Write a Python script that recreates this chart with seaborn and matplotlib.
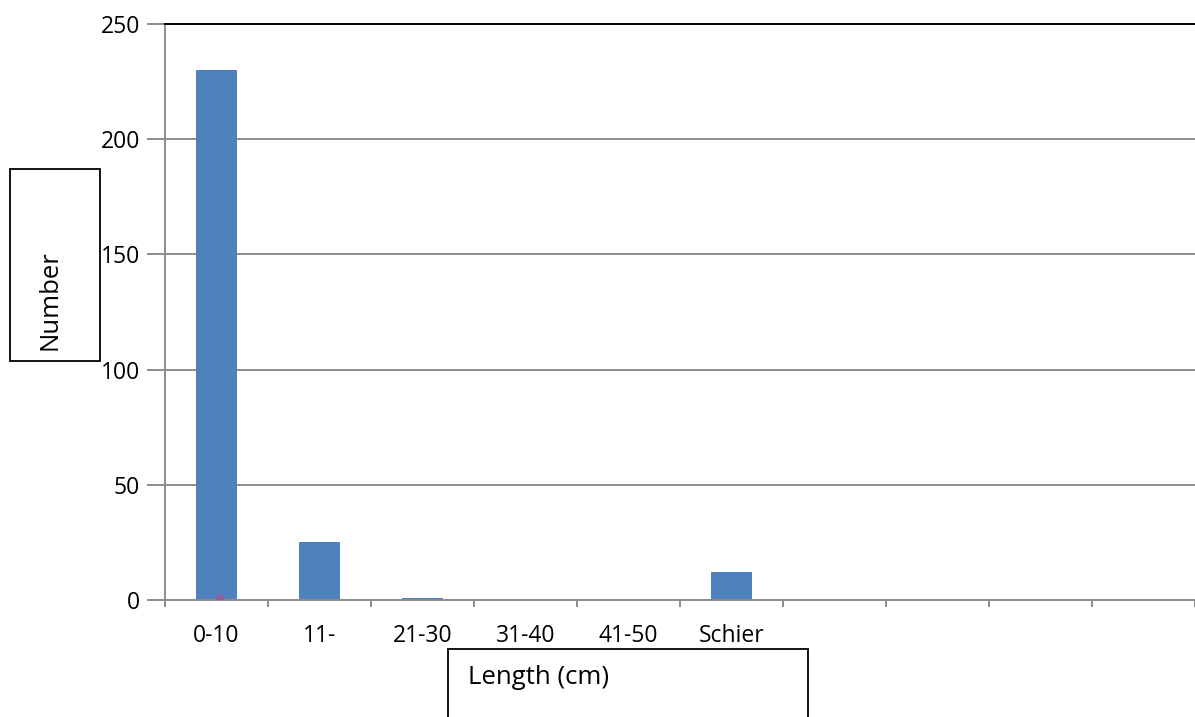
import numpy as np
import pandas as pd
import matplotlib
matplotlib.use('Agg')
import matplotlib.pyplot as plt
import seaborn as sns
from matplotlib.patches import Rectangle

# 데이터
categories = ['0-10', '11-', '21-30', '31-40', '41-50', 'Schier']
counts = [230, 25, 1, 0, 0, 12]
second = [2, 0, 0, 0, 0, 0]
n_slots = 10

sns.set_style('white')
plt.rcParams['font.family'] = ['Open Sans', 'DejaVu Sans']
plt.rcParams['text.color'] = 'black'
plt.rcParams['xtick.color'] = 'black'
plt.rcParams['ytick.color'] = 'black'

fig = plt.figure(figsize=(11.95, 7.17), dpi=100)
ax = fig.add_axes([165 / 1195, 117 / 717, 1030 / 1195, 576 / 717])

df = pd.DataFrame({'cat': categories, 'n': counts, 'n2': second})
sns.barplot(data=df, x='cat', y='n', order=categories, color='#4F81BD',
            width=0.4, saturation=1, linewidth=0, ax=ax)
ax.bar(np.arange(len(categories)) + 0.035, df['n2'], width=0.08,
       color='#8E5EA2', linewidth=0, zorder=3)

ax.set_ylim(0, 250)
ax.set_xlim(-0.5, n_slots - 0.5 - 9 / 104)
ax.set_yticks(np.arange(0, 251, 50))
ax.yaxis.grid(True, color='#8c8c8c', linewidth=1.4)
ax.set_axisbelow(True)

ax.spines['right'].set_visible(False)
ax.spines['top'].set_color('black')
ax.spines['top'].set_linewidth(1.4)
for s in ['left', 'bottom']:
    ax.spines[s].set_color('#8c8c8c')
    ax.spines[s].set_linewidth(1.4)

# 눈금
ax.set_xticks(np.arange(len(categories)))
ax.set_xticklabels(categories, fontsize=16.5)
ax.set_xticks(np.arange(n_slots + 1) - 0.5, minor=True)
ax.tick_params(axis='x', which='major', length=0, pad=17)
ax.tick_params(axis='x', which='minor', length=5, width=1.4, color='#8c8c8c',
               direction='out', bottom=True)
ax.tick_params(axis='y', length=13, width=1.4, color='#8c8c8c', direction='out',
               labelsize=16.5, labelcolor='black', pad=5, left=True)
ax.set_xlabel('')
ax.set_ylabel('')

# 축 제목 박스
fig.patches.append(Rectangle((10 / 1195, 1 - 361 / 717), 90 / 1195, 192 / 717,
                             transform=fig.transFigure, fill=False,
                             edgecolor='black', linewidth=1.3))
fig.text(50 / 1195, 1 - 300 / 717, 'Number', rotation=90, fontsize=18.5,
         ha='center', va='center')

fig.patches.append(Rectangle((448 / 1195, -0.01), 360 / 1195, 1 - 649 / 717 + 0.01,
                             transform=fig.transFigure, fill=False,
                             edgecolor='black', linewidth=1.3))
fig.text(468 / 1195, 1 - 678 / 717, 'Length (cm)', fontsize=18.5,
         ha='left', va='center')

plt.savefig('out.png', dpi=100)
